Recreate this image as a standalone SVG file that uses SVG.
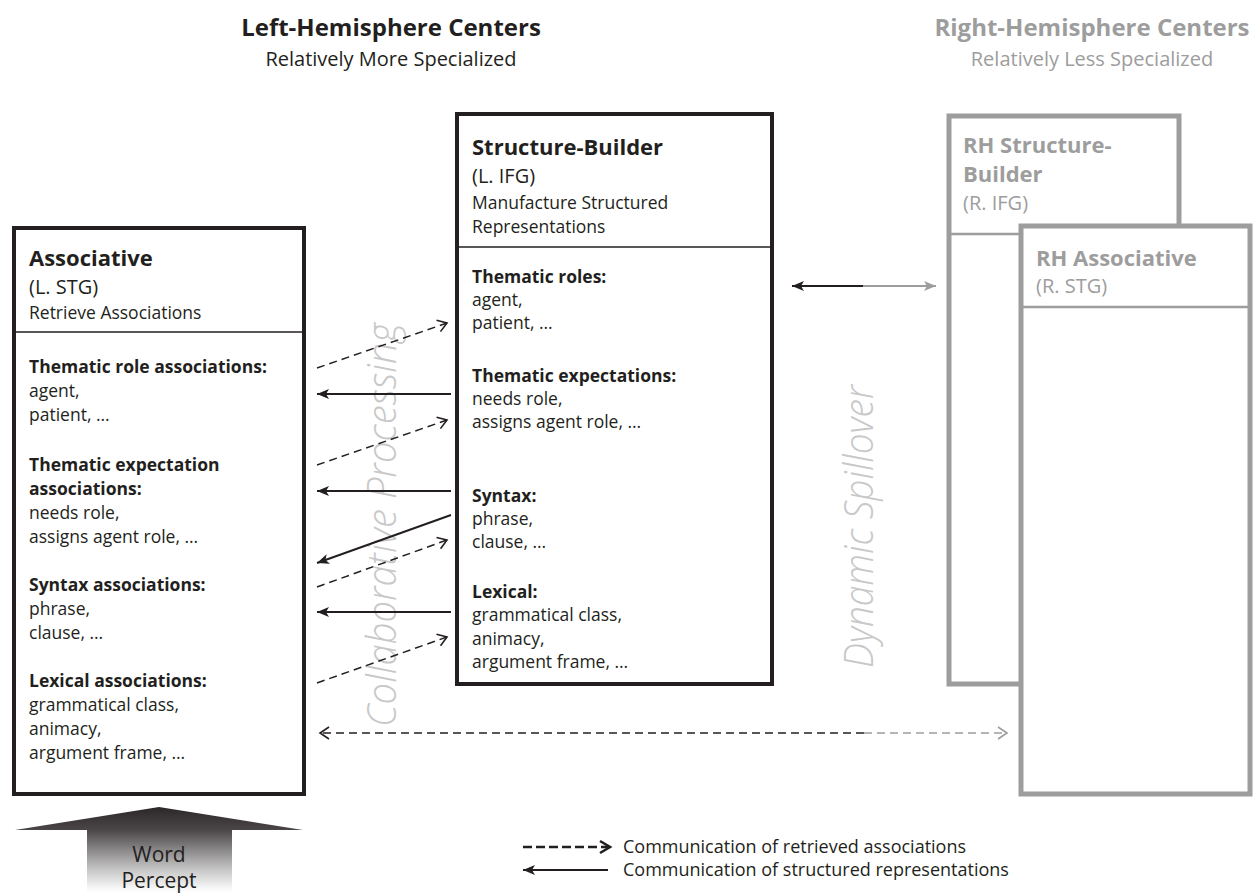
<svg xmlns="http://www.w3.org/2000/svg" width="1255" height="894" viewBox="0 0 1255 894">
<style>
text { font-family: "Open Sans", "Liberation Sans", sans-serif; fill: #231f20; }
.h { font-weight: bold; font-size: 22px; }
.sub { font-size: 20px; }
.t { font-size: 17.5px; }
.tb { font-size: 17.5px; font-weight: bold; }
.g { fill: #9d9d9d; }
.box { fill: #fff; stroke: #231f20; stroke-width: 4; }
.gbox { fill: #fff; stroke: #9d9d9d; stroke-width: 5; }
.div { stroke: #231f20; stroke-width: 1.5; }
.gdiv { stroke: #9d9d9d; stroke-width: 2.5; }
.solid { stroke: #231f20; stroke-width: 2; fill: none; }
.solidg { stroke: #9d9d9d; stroke-width: 2; fill: none; }
.dash { stroke: #231f20; stroke-width: 1.5; stroke-dasharray: 8 5; fill: none; }
.dashg { stroke: #9d9d9d; stroke-width: 1.5; stroke-dasharray: 8 5; fill: none; }
.ldash { stroke: #231f20; stroke-width: 2.4; stroke-dasharray: 9 4; fill: none; }
.rot { font-style: italic; font-weight: 300; font-size: 40px; fill: #c8c8c8; }
.title { font-weight: bold; font-size: 24px; }
.stitle { font-size: 20px; }
.leg { font-size: 18px; }
</style>
<defs>
<marker id="oh" markerUnits="userSpaceOnUse" markerWidth="14" markerHeight="14" viewBox="-12 -7 14 14" refX="0" refY="0" orient="auto">
<path d="M-9,-6 L0,0 L-9,6" fill="none" stroke="#231f20" stroke-width="1.6"/>
</marker>
<marker id="ohg" markerUnits="userSpaceOnUse" markerWidth="14" markerHeight="14" viewBox="-12 -7 14 14" refX="0" refY="0" orient="auto">
<path d="M-9,-6 L0,0 L-9,6" fill="none" stroke="#9d9d9d" stroke-width="1.6"/>
</marker>
<marker id="ohb" markerUnits="userSpaceOnUse" markerWidth="16" markerHeight="16" viewBox="-13 -8 16 16" refX="0" refY="0" orient="auto">
<path d="M-10,-6 L0,0 L-10,6" fill="none" stroke="#231f20" stroke-width="2.6"/>
</marker>
<marker id="sh" markerUnits="userSpaceOnUse" markerWidth="14" markerHeight="12" viewBox="-13 -6 14 12" refX="0" refY="0" orient="auto">
<path d="M0,0 L-12,-5 L-9,0 L-12,5 z" fill="#231f20"/>
</marker>
<marker id="shg" markerUnits="userSpaceOnUse" markerWidth="14" markerHeight="12" viewBox="-13 -6 14 12" refX="0" refY="0" orient="auto">
<path d="M0,0 L-12,-5 L-9,0 L-12,5 z" fill="#9d9d9d"/>
</marker>
<linearGradient id="wp" gradientUnits="userSpaceOnUse" x1="0" y1="806" x2="0" y2="894">
<stop offset="0" stop-color="#2a2526"/>
<stop offset="0.27" stop-color="#4a4647"/>
<stop offset="0.5" stop-color="#8a8889"/>
<stop offset="0.73" stop-color="#c9c8c8"/>
<stop offset="0.95" stop-color="#fafafa"/>
<stop offset="1" stop-color="#ffffff"/>
</linearGradient>
</defs>

<g id="titles">
<text x="391" y="36" text-anchor="middle" class="title">Left-Hemisphere Centers</text>
<text x="391" y="66" text-anchor="middle" class="stitle">Relatively More Specialized</text>
<text x="1092" y="36" text-anchor="middle" class="title g">Right-Hemisphere Centers</text>
<text x="1092" y="66" text-anchor="middle" class="stitle g">Relatively Less Specialized</text>
</g>

<g id="rotated-labels">
<text class="rot" transform="translate(396,727) rotate(-90)" textLength="404" lengthAdjust="spacingAndGlyphs">Collaborative Processing</text>
<text class="rot" transform="translate(873,668) rotate(-90)" textLength="283" lengthAdjust="spacingAndGlyphs">Dynamic Spillover</text>
</g>

<g id="associative">
<rect class="box" x="14" y="228" width="290" height="566"/>
<line class="div" x1="14" y1="332" x2="304" y2="332"/>
<text x="29" y="266" class="h">Associative</text>
<text x="29" y="294" class="sub">(L. STG)</text>
<text x="29" y="319" class="t">Retrieve Associations</text>
<text x="29" y="373" class="tb">Thematic role associations:</text>
<text x="29" y="397" class="t">agent,</text>
<text x="29" y="421" class="t">patient, …</text>
<text x="29" y="471" class="tb">Thematic expectation</text>
<text x="29" y="495" class="tb">associations:</text>
<text x="29" y="519" class="t">needs role,</text>
<text x="29" y="543" class="t">assigns agent role, …</text>
<text x="29" y="591" class="tb">Syntax associations:</text>
<text x="29" y="615" class="t">phrase,</text>
<text x="29" y="639" class="t">clause, …</text>
<text x="29" y="687" class="tb">Lexical associations:</text>
<text x="29" y="711" class="t">grammatical class,</text>
<text x="29" y="735" class="t">animacy,</text>
<text x="29" y="759" class="t">argument frame, …</text>
</g>

<g id="structure-builder">
<rect class="box" x="457" y="114" width="315" height="570"/>
<line class="div" x1="457" y1="247" x2="772" y2="247"/>
<text x="472" y="155" class="h">Structure-Builder</text>
<text x="472" y="183" class="sub">(L. IFG)</text>
<text x="472" y="209" class="t">Manufacture Structured</text>
<text x="472" y="233" class="t">Representations</text>
<text x="472" y="283" class="tb">Thematic roles:</text>
<text x="472" y="306" class="t">agent,</text>
<text x="472" y="329" class="t">patient, …</text>
<text x="472" y="382" class="tb">Thematic expectations:</text>
<text x="472" y="405" class="t">needs role,</text>
<text x="472" y="428" class="t">assigns agent role, …</text>
<text x="472" y="502" class="tb">Syntax:</text>
<text x="472" y="525" class="t">phrase,</text>
<text x="472" y="548" class="t">clause, …</text>
<text x="472" y="598" class="tb">Lexical:</text>
<text x="472" y="621" class="t">grammatical class,</text>
<text x="472" y="645" class="t">animacy,</text>
<text x="472" y="668" class="t">argument frame, …</text>
</g>

<g id="rh-structure-builder">
<rect class="gbox" x="949" y="116" width="230" height="568"/>
<line class="gdiv" x1="949" y1="234" x2="1179" y2="234"/>
<text x="963" y="153" class="h g">RH Structure-</text>
<text x="963" y="182" class="h g">Builder</text>
<text x="963" y="210" class="sub g">(R. IFG)</text>
</g>

<g id="rh-associative">
<rect class="gbox" x="1021" y="226" width="229" height="568"/>
<line class="gdiv" x1="1021" y1="307" x2="1250" y2="307"/>
<text x="1036" y="266" class="h g">RH Associative</text>
<text x="1036" y="293" class="sub g">(R. STG)</text>
</g>

<g id="word-percept">
<polygon points="159,807 303,830 232,830 232,894 87,894 87,830 15,830" fill="url(#wp)"/>
<text x="159" y="862" text-anchor="middle" font-size="21">Word</text>
<text x="159" y="888" text-anchor="middle" font-size="21">Percept</text>
</g>

<g id="connectors">
<line class="dash" x1="317" y1="368" x2="447" y2="323" marker-end="url(#oh)"/>
<line class="dash" x1="317" y1="465" x2="447" y2="420" marker-end="url(#oh)"/>
<line class="dash" x1="317" y1="587" x2="447" y2="540" marker-end="url(#oh)"/>
<line class="dash" x1="317" y1="683" x2="447" y2="637" marker-end="url(#oh)"/>
<line class="solid" x1="451" y1="394" x2="317" y2="394" marker-end="url(#sh)"/>
<line class="solid" x1="451" y1="491" x2="317" y2="491" marker-end="url(#sh)"/>
<line class="solid" x1="451" y1="515" x2="317" y2="563" marker-end="url(#sh)"/>
<line class="solid" x1="451" y1="612" x2="317" y2="612" marker-end="url(#sh)"/>
<line class="solid" x1="864" y1="286" x2="792" y2="286" marker-end="url(#sh)"/>
<line class="solidg" x1="863" y1="286" x2="936" y2="286" marker-end="url(#shg)"/>
<line class="dash" x1="864" y1="733" x2="320" y2="733" marker-end="url(#oh)"/>
<line class="dashg" x1="864" y1="733" x2="1007" y2="733" marker-end="url(#ohg)"/>
</g>

<g id="legend">
<line class="ldash" x1="523" y1="847" x2="610" y2="847" marker-end="url(#ohb)"/>
<line class="solid" x1="608" y1="870" x2="523" y2="870" marker-end="url(#sh)"/>
<text x="623" y="853" class="leg">Communication of retrieved associations</text>
<text x="623" y="876" class="leg">Communication of structured representations</text>
</g>
</svg>
